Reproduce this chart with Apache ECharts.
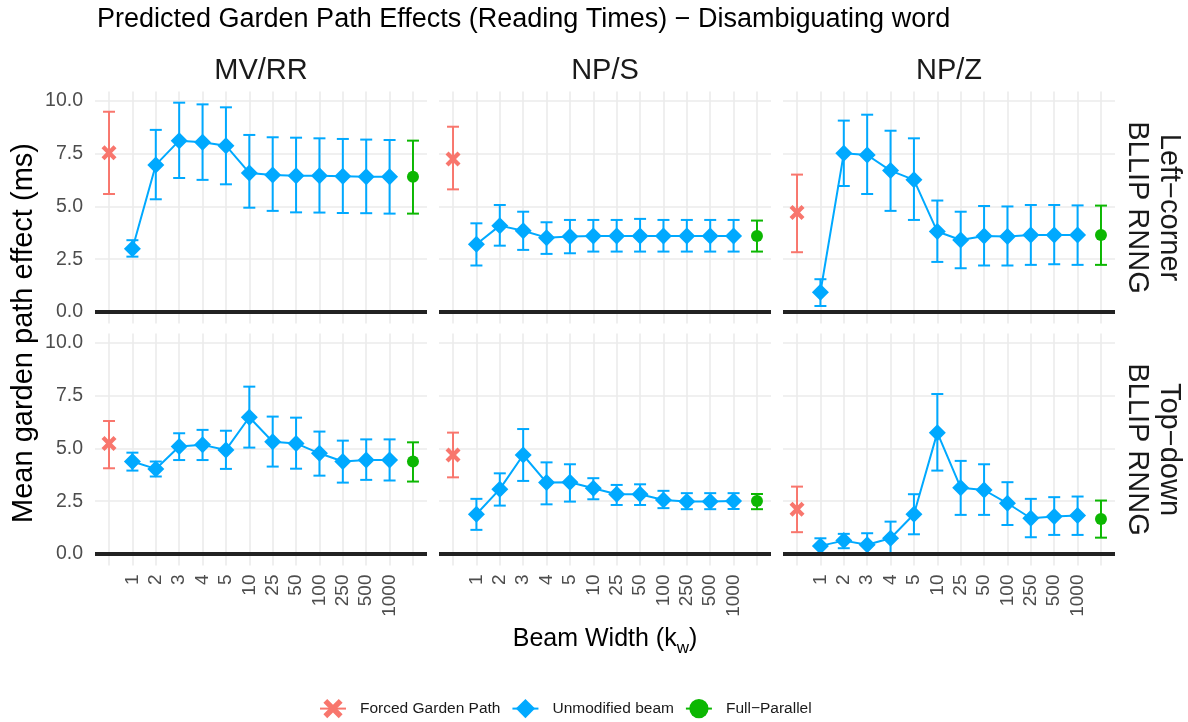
<!DOCTYPE html>
<html>
<head>
<meta charset="utf-8">
<title>Predicted Garden Path Effects</title>
<script src="https://cdn.jsdelivr.net/npm/echarts@6/dist/echarts.min.js"></script>
<style>
  html, body { margin: 0; padding: 0; background: #fff; }
  #chart { width: 1188px; height: 722px; }
</style>
</head>
<body>
<div id="chart"></div>
<script>
// x categories (beam width k_w); forced path sits left of 1, full-parallel right of 1000
const beamWidths = ['1', '2', '3', '4', '5', '10', '25', '50', '100', '250', '500', '1000'];
const constructions = ['MV/RR', 'NP/S', 'NP/Z'];
const modelNames = [['Left−corner', 'BLLIP RNNG'], ['Top−down', 'BLLIP RNNG']];
const yTicks = [0, 2.5, 5, 7.5, 10];

// Left-corner BLLIP RNNG  (forced / full = [mean, low, high])
const lcMvrrMean = [2.99, 6.97, 8.12, 8.04, 7.88, 6.59, 6.49, 6.46, 6.45, 6.43, 6.41, 6.41];
const lcMvrrLow = [2.62, 5.34, 6.35, 6.26, 6.05, 4.94, 4.79, 4.72, 4.71, 4.69, 4.68, 4.66];
const lcMvrrHigh = [3.40, 8.63, 9.92, 9.84, 9.70, 8.39, 8.28, 8.26, 8.23, 8.20, 8.17, 8.15];
const lcMvrrForced = [7.55, 5.59, 9.49];
const lcMvrrFull = [6.41, 4.66, 8.12];

const lcNpsMean = [3.21, 4.09, 3.85, 3.52, 3.57, 3.60, 3.60, 3.60, 3.60, 3.60, 3.60, 3.60];
const lcNpsLow = [2.20, 3.14, 2.94, 2.75, 2.78, 2.86, 2.86, 2.86, 2.86, 2.86, 2.86, 2.86];
const lcNpsHigh = [4.20, 5.07, 4.75, 4.25, 4.36, 4.36, 4.36, 4.41, 4.36, 4.36, 4.36, 4.36];
const lcNpsForced = [7.25, 5.81, 8.78];
const lcNpsFull = [3.60, 2.86, 4.33];

const lcNpzMean = [0.93, 7.52, 7.44, 6.70, 6.26, 3.81, 3.41, 3.60, 3.57, 3.65, 3.65, 3.65];
const lcNpzLow = [0.28, 5.97, 5.59, 4.79, 4.36, 2.37, 2.07, 2.20, 2.20, 2.23, 2.26, 2.23];
const lcNpzHigh = [1.55, 9.07, 9.35, 8.59, 8.23, 5.28, 4.75, 5.02, 5.00, 5.07, 5.07, 5.05];
const lcNpzForced = [4.71, 2.83, 6.51];
const lcNpzFull = [3.65, 2.23, 5.04];

// Top-down BLLIP RNNG
const tdMvrrMean = [4.38, 4.03, 5.09, 5.17, 4.93, 6.48, 5.32, 5.24, 4.77, 4.38, 4.45, 4.45];
const tdMvrrLow = [3.95, 3.67, 4.45, 4.45, 4.03, 5.04, 4.14, 4.04, 3.71, 3.38, 3.51, 3.48];
const tdMvrrHigh = [4.80, 4.38, 5.72, 5.88, 5.84, 7.93, 6.51, 6.46, 5.80, 5.37, 5.43, 5.43];
const tdMvrrForced = [5.24, 4.06, 6.30];
const tdMvrrFull = [4.38, 3.43, 5.29];

const tdNpsMean = [1.88, 3.07, 4.69, 3.38, 3.40, 3.11, 2.83, 2.83, 2.56, 2.48, 2.48, 2.51];
const tdNpsLow = [1.14, 2.29, 3.46, 2.35, 2.48, 2.59, 2.32, 2.32, 2.17, 2.12, 2.12, 2.13];
const tdNpsHigh = [2.61, 3.82, 5.92, 4.34, 4.25, 3.59, 3.27, 3.30, 2.99, 2.88, 2.88, 2.88];
const tdNpsForced = [4.69, 3.63, 5.75];
const tdNpsFull = [2.51, 2.12, 2.84];

const tdNpzMean = [0.38, 0.63, 0.43, 0.74, 1.88, 5.75, 3.14, 3.03, 2.40, 1.69, 1.77, 1.82];
const tdNpzLow = [0.00, 0.27, -0.01, -0.05, 0.93, 3.95, 1.85, 1.85, 1.37, 0.79, 0.90, 0.90];
const tdNpzHigh = [0.74, 0.95, 0.98, 1.53, 2.83, 7.58, 4.41, 4.25, 3.40, 2.61, 2.69, 2.72];
const tdNpzForced = [2.12, 1.03, 3.19];
const tdNpzFull = [1.66, 0.77, 2.53];

const panels = [
  {row: 0, col: 0, mean: lcMvrrMean, low: lcMvrrLow, high: lcMvrrHigh, forced: lcMvrrForced, full: lcMvrrFull},
  {row: 0, col: 1, mean: lcNpsMean, low: lcNpsLow, high: lcNpsHigh, forced: lcNpsForced, full: lcNpsFull},
  {row: 0, col: 2, mean: lcNpzMean, low: lcNpzLow, high: lcNpzHigh, forced: lcNpzForced, full: lcNpzFull},
  {row: 1, col: 0, mean: tdMvrrMean, low: tdMvrrLow, high: tdMvrrHigh, forced: tdMvrrForced, full: tdMvrrFull},
  {row: 1, col: 1, mean: tdNpsMean, low: tdNpsLow, high: tdNpsHigh, forced: tdNpsForced, full: tdNpsFull},
  {row: 1, col: 2, mean: tdNpzMean, low: tdNpzLow, high: tdNpzHigh, forced: tdNpzForced, full: tdNpzFull}
];

const FONT = '"Liberation Sans", Arial, Helvetica, sans-serif';
const RED = '#F8766D', BLUE = '#00A9FF', GREEN = '#0CB702';
const crossPath = 'path://M2,0L5,3L8,0L10,2L7,5L10,8L8,10L5,7L2,10L0,8L3,5L0,2Z';

const rowTop = [91.5, 333.5];
const colLeft = [95, 439, 783];
const panelW = 332, panelH = 232;

const fullPos = beamWidths.length + 1;
const beamPos = beamWidths.map((_, i) => i + 1);
const xTicks = [0].concat(beamPos, [fullPos]);

function errorBar(color) {
  return function (params, api) {
    const x = api.value(0);
    const lo = api.coord([x, api.value(1)]);
    const hi = api.coord([x, api.value(2)]);
    const style = {stroke: color, lineWidth: 2};
    return {
      type: 'group',
      children: [
        {type: 'line', shape: {x1: lo[0], y1: lo[1], x2: hi[0], y2: hi[1]}, style: style},
        {type: 'line', shape: {x1: lo[0] - 6, y1: lo[1], x2: lo[0] + 6, y2: lo[1]}, style: style},
        {type: 'line', shape: {x1: hi[0] - 6, y1: hi[1], x2: hi[0] + 6, y2: hi[1]}, style: style}
      ]
    };
  };
}

const grid = [], xAxis = [], yAxis = [], series = [];

panels.forEach(function (p, i) {
  grid.push({left: colLeft[p.col], top: rowTop[p.row], width: panelW, height: panelH});
  xAxis.push({
    type: 'value', gridIndex: i, min: -0.6, max: fullPos + 0.6,
    axisLine: {show: false},
    axisTick: {show: false, customValues: xTicks},
    axisLabel: {
      show: p.row === 1, customValues: beamPos, rotate: 90, margin: 9,
      formatter: v => beamWidths[Math.round(v) - 1],
      fontSize: 19, color: '#4D4D4D', fontFamily: FONT
    },
    splitLine: {show: true, lineStyle: {color: '#EBEBEB', width: 1.6}}
  });
  yAxis.push({
    type: 'value', gridIndex: i, min: -0.55, max: 10.45,
    axisLine: {show: false},
    axisTick: {show: false, customValues: yTicks},
    axisLabel: {
      show: p.col === 0, customValues: yTicks, margin: 12,
      formatter: v => v.toFixed(1),
      fontSize: 19.5, color: '#4D4D4D', fontFamily: FONT
    },
    splitLine: {show: true, lineStyle: {color: '#EBEBEB', width: 1.6}}
  });

  // zero line
  series.push({
    type: 'line', xAxisIndex: i, yAxisIndex: i, data: [], z: 1, silent: true,
    markLine: {
      silent: true, symbol: 'none', label: {show: false},
      lineStyle: {color: '#222222', width: 4, type: 'solid'},
      data: [{yAxis: 0}]
    }
  });

  // error bars
  series.push({
    type: 'custom', xAxisIndex: i, yAxisIndex: i, z: 2, silent: true,
    renderItem: errorBar(RED), encode: {x: 0, y: [1, 2]},
    data: [[0, p.forced[1], p.forced[2]]]
  });
  series.push({
    type: 'custom', xAxisIndex: i, yAxisIndex: i, z: 2, silent: true,
    renderItem: errorBar(BLUE), encode: {x: 0, y: [1, 2]},
    data: p.mean.map((m, k) => [k + 1, p.low[k], p.high[k]])
  });
  series.push({
    type: 'custom', xAxisIndex: i, yAxisIndex: i, z: 2, silent: true,
    renderItem: errorBar(GREEN), encode: {x: 0, y: [1, 2]},
    data: [[fullPos, p.full[1], p.full[2]]]
  });

  // points
  series.push({
    name: 'Forced Garden Path', type: 'line', xAxisIndex: i, yAxisIndex: i, z: 3,
    symbol: crossPath, symbolSize: 15, color: RED,
    lineStyle: {color: RED, width: 2}, itemStyle: {color: RED},
    data: [[0, p.forced[0]]]
  });
  series.push({
    name: 'Unmodified beam', type: 'line', xAxisIndex: i, yAxisIndex: i, z: 3,
    symbol: 'diamond', symbolSize: 17, color: BLUE,
    lineStyle: {color: BLUE, width: 2}, itemStyle: {color: BLUE},
    data: p.mean.map((m, k) => [k + 1, m])
  });
  series.push({
    name: 'Full−Parallel', type: 'line', xAxisIndex: i, yAxisIndex: i, z: 3,
    symbol: 'circle', symbolSize: 12, color: GREEN,
    lineStyle: {color: GREEN, width: 2}, itemStyle: {color: GREEN},
    data: [[fullPos, p.full[0]]]
  });
});

const graphic = [
  {type: 'text', x: 97, y: 20,
    style: {text: 'Predicted Garden Path Effects (Reading Times) − Disambiguating word', fontSize: 27, fontFamily: FONT, fill: '#000', align: 'left', verticalAlign: 'middle'}},
  {type: 'text', x: 24, y: 333, rotation: Math.PI / 2,
    style: {text: 'Mean garden path effect (ms)', fontSize: 29, fontFamily: FONT, fill: '#000', align: 'center', verticalAlign: 'middle'}},
  {type: 'text', x: 605, y: 639,
    style: {
      text: '{m|Beam Width (k}{s|w}{m|)}', align: 'center', verticalAlign: 'middle', fill: '#000',
      rich: {
        m: {fontSize: 25, fontFamily: FONT, fill: '#000'},
        s: {fontSize: 17, fontFamily: FONT, fill: '#000', verticalAlign: 'bottom', padding: [18, 0, 0, 0]}
      }
    }}
];
constructions.forEach(function (c, j) {
  graphic.push({type: 'text', x: colLeft[j] + panelW / 2, y: 71,
    style: {text: c, fontSize: 29, fontFamily: FONT, fill: '#1A1A1A', align: 'center', verticalAlign: 'middle'}});
});
modelNames.forEach(function (lines, r) {
  const cy = rowTop[r] + panelH / 2;
  graphic.push({type: 'text', x: 1169, y: cy, rotation: -Math.PI / 2,
    style: {text: lines[0], fontSize: 29, fontFamily: FONT, fill: '#1A1A1A', align: 'center', verticalAlign: 'middle'}});
  graphic.push({type: 'text', x: 1137, y: cy, rotation: -Math.PI / 2,
    style: {text: lines[1], fontSize: 29, fontFamily: FONT, fill: '#1A1A1A', align: 'center', verticalAlign: 'middle'}});
});

const chart = echarts.init(document.getElementById('chart'));
chart.setOption({
  animation: false,
  backgroundColor: '#fff',
  grid: grid,
  xAxis: xAxis,
  yAxis: yAxis,
  legend: {
    data: ['Forced Garden Path', 'Unmodified beam', 'Full−Parallel'],
    left: 319, top: 699, padding: 0, itemWidth: 26, itemHeight: 24, itemGap: 11,
    textStyle: {fontSize: 15.5, color: '#1A1A1A', fontFamily: FONT, padding: [0, 0, 0, 9]}
  },
  graphic: graphic,
  series: series
});
</script>
</body>
</html>
